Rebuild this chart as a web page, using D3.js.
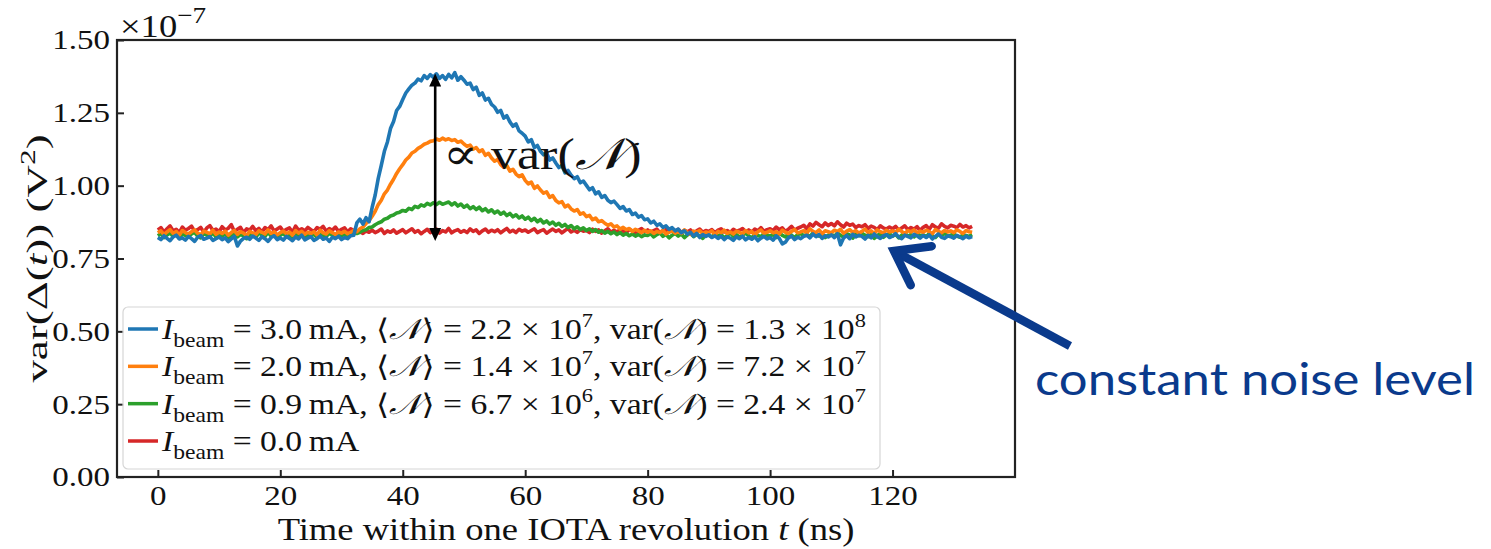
<!DOCTYPE html>
<html>
<head>
<meta charset="utf-8">
<script src="https://cdn.jsdelivr.net/npm/d3@7"></script>
<style>
  body { margin: 0; background: #fff; }
  svg text { font-family: "Liberation Serif", "DejaVu Serif", serif; fill: #111; }
</style>
</head>
<body>
<svg id="chart" width="1491" height="549"></svg>
<script>
// samples every 0.5 ns, values in units of 1e-10 V^2 (axis is x1e-7)
const tStep = 0.5;

const blueVals = [
  822, 815, 828, 819, 811, 824, 830, 817, 821, 813,
  826, 818, 809, 823, 829, 816, 820, 825, 812, 818,
  824, 815, 821, 808, 817, 826, 793, 810, 819, 823,
  816, 827, 820, 812, 825, 818, 809, 822, 828, 815,
  821, 813, 826, 819, 811, 824, 817, 830, 814, 820,
  825, 812, 818, 827, 816, 821, 809, 823, 818, 826,
  815, 822, 818, 828, 830, 872, 885, 868, 890, 876,
  925, 968, 1025, 1070, 1118, 1150, 1196, 1220, 1258, 1272,
  1296, 1318, 1332, 1345, 1352, 1366, 1360, 1378, 1368, 1381,
  1372, 1384, 1368, 1378, 1365, 1382, 1370, 1388, 1362, 1374,
  1362, 1348, 1352, 1330, 1338, 1310, 1318, 1294, 1300, 1279,
  1270, 1252, 1258, 1232, 1240, 1219, 1204, 1212, 1188, 1180,
  1170, 1150, 1158, 1131, 1138, 1118, 1106, 1112, 1088, 1095,
  1078, 1062, 1069, 1044, 1052, 1036, 1024, 1031, 1010, 1016,
  1001, 986, 993, 972, 979, 960, 966, 950, 942, 947,
  935, 922, 928, 913, 918, 901, 906, 892, 897, 883,
  886, 872, 878, 864, 869, 857, 862, 850, 856, 845,
  851, 838, 845, 833, 840, 827, 836, 822, 832, 826,
  831, 822, 828, 819, 826, 815, 824, 820, 812, 825,
  818, 827, 814, 822, 816, 825, 811, 820, 826, 817,
  822, 813, 828, 819, 800, 806, 821, 827, 815, 823,
  818, 826, 830, 821, 834, 825, 832, 819, 828, 824,
  831, 822, 835, 797, 820, 829, 818, 833, 824, 830,
  826, 817, 829, 821, 834, 825, 819, 828, 832, 822,
  827, 835, 824, 818, 830, 826, 821, 833, 828, 820,
  829, 822, 831, 817, 826, 834, 823, 819, 828, 825,
  820, 829, 824, 818, 827, 821, 825
];

const orangeVals = [
  838, 845, 832, 841, 849, 836, 843, 830, 846, 839,
  834, 842, 848, 837, 831, 844, 840, 835, 847, 833,
  841, 836, 844, 830, 839, 846, 833, 842, 837, 829,
  843, 838, 832, 845, 840, 834, 848, 836, 842, 831,
  839, 844, 835, 841, 830, 846, 837, 843, 833, 840,
  836, 842, 831, 847, 838, 834, 845, 839, 832, 841,
  837, 843, 835, 840, 846, 842, 852, 858, 870, 880,
  895, 912, 935, 950, 972, 985, 1005, 1022, 1042, 1058,
  1072, 1088, 1098, 1112, 1118, 1128, 1134, 1142, 1146, 1152,
  1154, 1160, 1156, 1163, 1157, 1161, 1155, 1158, 1149, 1153,
  1143, 1135, 1139, 1125, 1131, 1117, 1123, 1104, 1111, 1095,
  1084, 1090, 1072, 1063, 1069, 1050, 1056, 1040, 1031, 1037,
  1018, 1006, 1012, 991, 999, 985, 974, 979, 960, 966,
  949, 941, 945, 927, 933, 920, 913, 918, 902, 907,
  894, 898, 883, 889, 876, 880, 871, 864, 869, 858,
  862, 851, 857, 849, 853, 843, 850, 845, 839, 847,
  840, 845, 836, 843, 839, 847, 834, 841, 845, 837,
  842, 836, 848, 839, 833, 844, 840, 846, 835, 841,
  838, 845, 832, 843, 839, 847, 836, 841, 834, 844,
  840, 835, 846, 838, 843, 831, 842, 848, 837, 840,
  845, 838, 842, 834, 847, 840, 836, 843, 849, 838,
  841, 846, 837, 852, 843, 839, 848, 835, 845, 842,
  838, 847, 843, 850, 836, 844, 849, 840, 846, 837,
  843, 851, 839, 845, 836, 848, 842, 838, 847, 841,
  845, 839, 850, 843, 836, 846, 841, 848, 838, 844,
  840, 847, 842, 835, 849, 843, 838, 846, 841, 845,
  839, 848, 843, 836, 846, 842, 840
];

const greenVals = [
  828, 835, 822, 831, 838, 825, 833, 819, 836, 829,
  824, 834, 840, 827, 821, 836, 830, 826, 839, 823,
  832, 827, 836, 820, 829, 837, 824, 833, 828, 818,
  834, 829, 823, 838, 831, 826, 840, 827, 833, 822,
  830, 836, 825, 832, 821, 838, 828, 835, 824, 831,
  827, 834, 822, 839, 829, 825, 837, 830, 823, 833,
  828, 835, 826, 832, 838, 836, 840, 846, 849, 856,
  858, 866, 872, 876, 885, 888, 896, 899, 906, 909,
  915, 912, 922, 918, 929, 925, 934, 930, 939, 934,
  941, 935, 943, 936, 940, 944, 934, 941, 930, 937,
  926, 933, 921, 928, 918, 926, 914, 921, 910, 917,
  906, 913, 902, 909, 897, 905, 893, 900, 889, 896,
  885, 892, 880, 888, 876, 884, 872, 879, 868, 875,
  864, 871, 860, 867, 856, 863, 852, 859, 849, 855,
  846, 852, 843, 849, 840, 846, 837, 843, 835, 841,
  832, 839, 830, 836, 828, 834, 827, 833, 825, 831,
  829, 835, 824, 832, 838, 826, 833, 821, 830, 836,
  827, 834, 822, 831, 837, 825, 832, 828, 819, 835,
  830, 824, 836, 827, 833, 821, 829, 838, 826, 832,
  823, 831, 837, 828, 820, 834, 829, 825, 836, 830,
  827, 833, 822, 838, 829, 824, 835, 830, 821, 832,
  836, 828, 833, 824, 839, 831, 827, 834, 822, 830,
  833, 826, 838, 829, 824, 835, 831, 820, 834, 828,
  837, 830, 825, 832, 819, 828, 836, 823, 831, 834,
  827, 833, 821, 830, 838, 826, 832, 824, 835, 829,
  831, 825, 836, 828, 822, 833, 829, 837, 826, 830,
  834, 827, 823, 831, 829, 826, 832
];

const redVals = [
  848, 856, 841, 852, 862, 845, 850, 839, 858, 847,
  853, 861, 844, 849, 857, 840, 855, 863, 846, 851,
  842, 859, 848, 854, 866, 843, 850, 857, 839, 852,
  847, 860, 845, 853, 841, 856, 849, 862, 844, 851,
  858, 843, 850, 855, 840, 861, 847, 852, 845, 857,
  849, 842, 856, 851, 860, 844, 853, 847, 858, 843,
  850, 855, 841, 852, 846, 838, 842, 836, 845, 840,
  847, 839, 844, 851, 836, 845, 840, 848, 837, 843,
  849, 838, 845, 852, 840, 846, 835, 843, 850, 839,
  844, 851, 837, 846, 841, 853, 838, 845, 849, 840,
  846, 839, 852, 843, 848, 836, 845, 851, 840, 847,
  842, 849, 838, 846, 853, 841, 847, 839, 850, 844,
  848, 840, 846, 852, 839, 845, 849, 837, 844, 851,
  843, 848, 838, 846, 853, 841, 847, 840, 849, 844,
  846, 839, 851, 843, 848, 837, 845, 852, 840, 847,
  841, 849, 844, 838, 850, 845, 839, 847, 853, 842,
  848, 840, 846, 851, 838, 845, 849, 841, 847, 843,
  850, 839, 846, 842, 848, 837, 845, 851, 840, 846,
  843, 849, 838, 847, 852, 841, 846, 839, 850, 844,
  847, 853, 842, 848, 840, 851, 845, 856, 843, 849,
  852, 846, 858, 849, 855, 843, 851, 860, 847, 854,
  858, 864, 852, 869, 861, 874, 866, 859, 872, 863,
  870, 862, 876, 866, 858, 871, 864, 868, 856, 863,
  859, 866, 853, 861, 857, 849, 862, 855, 851, 858,
  852, 860, 847, 855, 862, 849, 856, 851, 859, 846,
  857, 863, 850, 866, 858, 854, 869, 860, 855, 864,
  861, 856, 867, 858, 863, 855, 860
];

// legend text pieces
const beamCurrents = ["3.0", "2.0", "0.9", "0.0"];
const meanN = [["2.2", "7"], ["1.4", "7"], ["6.7", "6"], null];
const varN = [["1.3", "8"], ["7.2", "7"], ["2.4", "7"], null];
const lineColors = ["#1f77b4", "#ff7f0e", "#2ca02c", "#d62728"];
const seriesVals = [blueVals, orangeVals, greenVals, redVals];

const xTicks = [0, 20, 40, 60, 80, 100, 120];
const yTicks = [0, 0.25, 0.5, 0.75, 1.0, 1.25, 1.5];

// double arrow showing var(N): time, low, high (x1e-7)
const arrowT = 45.3, arrowLow = 0.81, arrowHigh = 1.385;

const SX = 1.18; // glyphs in the figure are a bit wide
const frame = { left: 117, right: 1015, top: 40, bottom: 477 };

const svg = d3.select("#chart");
const x = d3.scaleLinear().domain([-6.67, 140]).range([frame.left, frame.right]);
const y = d3.scaleLinear().domain([0, 1.5]).range([frame.bottom, frame.top]);

// curves, red first so blue ends on top
const line = d3.line()
  .x((d, i) => x(i * tStep))
  .y(d => y(d / 1000));

[3, 2, 1, 0].forEach(k => {
  svg.append("path")
    .datum(seriesVals[k])
    .attr("d", line)
    .attr("fill", "none")
    .attr("stroke", lineColors[k])
    .attr("stroke-width", 3.6)
    .attr("stroke-linejoin", "round");
});

//Assi
const xAxis = svg.append("g")
  .attr("transform", `translate(0,${frame.bottom})`)
  .call(d3.axisBottom(x).tickValues(xTicks).tickSizeInner(-7).tickSizeOuter(0).tickPadding(8));
const yAxis = svg.append("g")
  .attr("transform", `translate(${frame.left},0)`)
  .call(d3.axisLeft(y).tickValues(yTicks).tickSizeInner(-7).tickSizeOuter(0).tickPadding(6)
    .tickFormat(d3.format(".2f")));

[xAxis, yAxis].forEach(a => {
  a.select(".domain").remove();
  a.selectAll(".tick line").attr("stroke", "#222").attr("stroke-width", 2);
  a.selectAll(".tick text")
    .attr("font-size", 28)
    .attr("fill", "#111")
    .attr("transform", `scale(${SX},1)`)
    .style("font-family", '"Liberation Serif", serif');
});

svg.append("rect")
  .attr("x", frame.left).attr("y", frame.top)
  .attr("width", frame.right - frame.left).attr("height", frame.bottom - frame.top)
  .attr("fill", "none").attr("stroke", "#222").attr("stroke-width", 2.2);

// x1e-7 offset
const off = svg.append("text")
  .attr("transform", `translate(${frame.left + 3},37) scale(${SX},1)`)
  .attr("font-size", 31);
off.append("tspan").text("×10");
off.append("tspan").attr("dy", -14).attr("font-size", 23).text("−7");

// axis titles
const xt = svg.append("text")
  .attr("transform", `translate(${(frame.left + frame.right) / 2},540) scale(${SX},1)`)
  .attr("text-anchor", "middle").attr("font-size", 31);
xt.append("tspan").text("Time within one IOTA revolution ");
xt.append("tspan").attr("font-style", "italic").text("t");
xt.append("tspan").text(" (ns)");

const yt = svg.append("text")
  .attr("transform", `translate(47,${(frame.top + frame.bottom) / 2}) rotate(-90) scale(1.5,1)`)
  .attr("text-anchor", "middle").attr("font-size", 30);
yt.append("tspan").text("var(Δ(");
yt.append("tspan").attr("font-style", "italic").text("t");
yt.append("tspan").text(")) (V");
yt.append("tspan").attr("dy", -12).attr("font-size", 21).text("2");
yt.append("tspan").attr("dy", 12).text(")");

// legend
const leg = svg.append("g");
leg.append("rect")
  .attr("x", 123).attr("y", 307).attr("width", 757).attr("height", 162)
  .attr("rx", 5).attr("fill", "#fff").attr("fill-opacity", 0.85)
  .attr("stroke", "#d6d6d6").attr("stroke-width", 1.2);

const rowY = d3.scaleLinear().domain([0, 3]).range([329, 441]);
beamCurrents.forEach((cur, k) => {
  const yy = rowY(k);
  leg.append("line")
    .attr("x1", 128).attr("x2", 158).attr("y1", yy).attr("y2", yy)
    .attr("stroke", lineColors[k]).attr("stroke-width", 3.5);
  const t = leg.append("text")
    .attr("transform", `translate(162,${yy + 10}) scale(${SX},1)`)
    .attr("font-size", 28.5);
  t.append("tspan").attr("font-style", "italic").text("I");
  t.append("tspan").attr("dy", 8).attr("font-size", 20).text("beam");
  t.append("tspan").attr("dy", -8).text(` = ${cur}\u2009mA`);
  if (meanN[k]) {
    t.append("tspan").text(", ⟨");
    t.append("tspan").attr("font-style", "italic").text("𝒩");
    t.append("tspan").text(`⟩ = ${meanN[k][0]} × 10`);
    t.append("tspan").attr("dy", -12).attr("font-size", 19).text(meanN[k][1]);
    t.append("tspan").attr("dy", 12).text(", var(");
    t.append("tspan").attr("font-style", "italic").text("𝒩");
    t.append("tspan").text(`) = ${varN[k][0]} × 10`);
    t.append("tspan").attr("dy", -12).attr("font-size", 19).text(varN[k][1]);
  }
});

// double arrow + label
const ax = x(arrowT), ay1 = y(arrowHigh), ay2 = y(arrowLow);
svg.append("line")
  .attr("x1", ax).attr("x2", ax).attr("y1", ay1 + 10).attr("y2", ay2 - 10)
  .attr("stroke", "#000").attr("stroke-width", 2.6);
svg.append("path")
  .attr("d", `M${ax},${ay1} l-6,13 l12,0 Z M${ax},${ay2} l-6,-13 l12,0 Z`)
  .attr("fill", "#000");

const ann = svg.append("text")
  .attr("transform", `translate(443,169) scale(${SX},1)`)
  .attr("font-size", 44);
ann.append("tspan").text("∝ var(");
ann.append("tspan").attr("font-style", "italic").text("𝒩");
ann.append("tspan").text(")");

// constant noise level arrow
const navy = "#0a3a8c";
const tail = [1070, 346], tip = [894, 251];
const ang = Math.atan2(tail[1] - tip[1], tail[0] - tip[0]);
svg.append("line")
  .attr("x1", tail[0]).attr("y1", tail[1]).attr("x2", tip[0] + 3 * Math.cos(ang)).attr("y2", tip[1] + 3 * Math.sin(ang))
  .attr("stroke", navy).attr("stroke-width", 8.5);
const arm = 38, spread = 0.62;
svg.append("path")
  .attr("d", `M${tip[0] + arm * Math.cos(ang - spread)},${tip[1] + arm * Math.sin(ang - spread)}
              L${tip[0]},${tip[1]}
              L${tip[0] + arm * Math.cos(ang + spread)},${tip[1] + arm * Math.sin(ang + spread)}`)
  .attr("fill", "none").attr("stroke", navy).attr("stroke-width", 8.5)
  .attr("stroke-linecap", "round").attr("stroke-linejoin", "miter");

svg.append("text")
  .attr("x", 1035).attr("y", 395)
  .attr("font-size", 44)
  .attr("textLength", 440).attr("lengthAdjust", "spacingAndGlyphs")
  .style("font-family", "Lato, 'Open Sans', sans-serif")
  .style("fill", navy)
  .text("constant noise level");
</script>
</body>
</html>
